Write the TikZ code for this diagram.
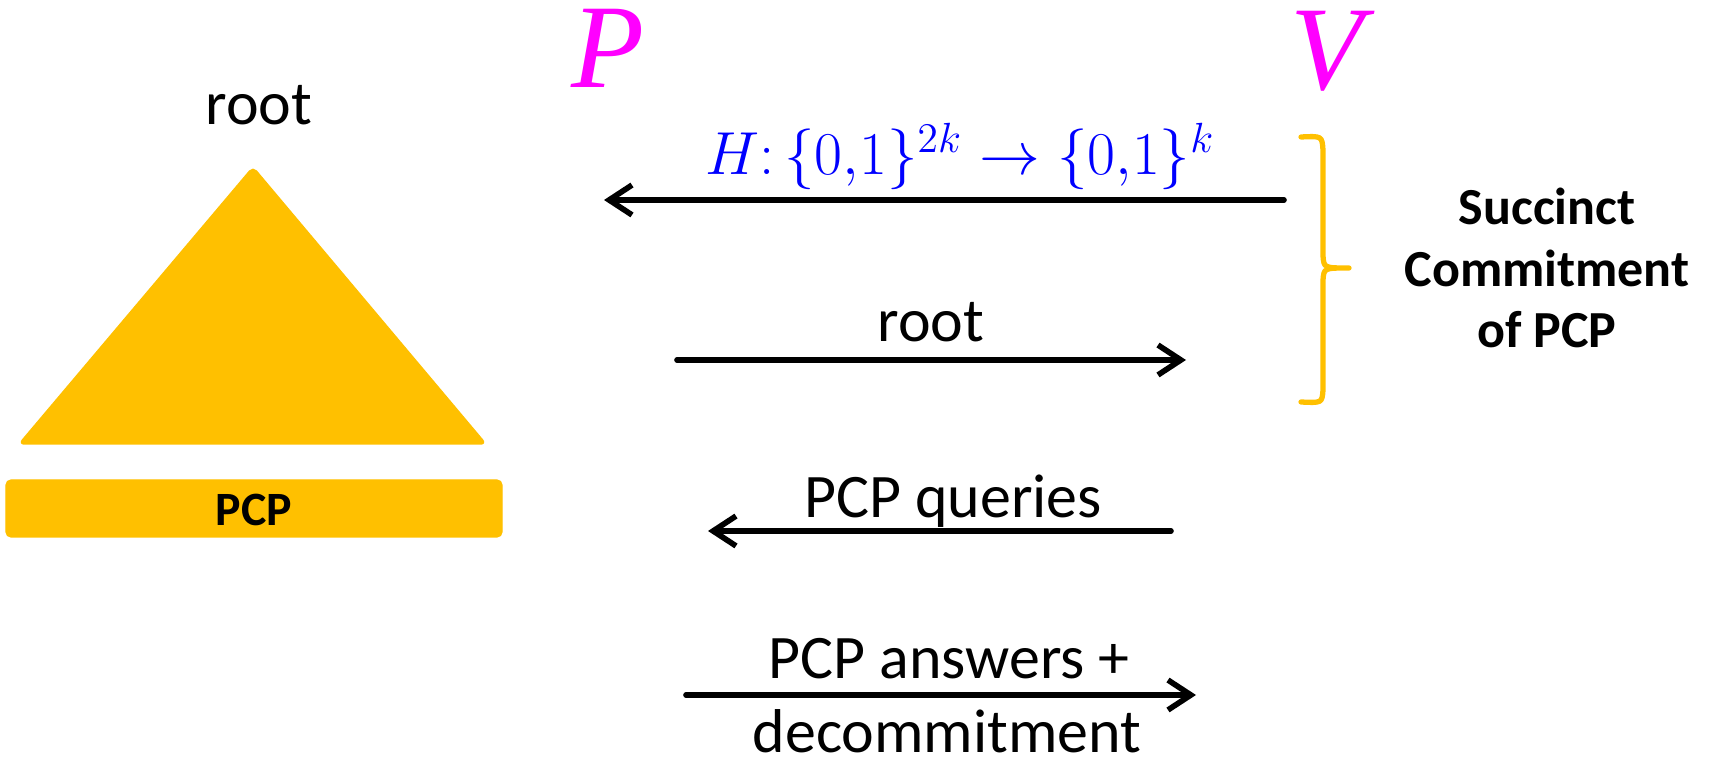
\documentclass[tikz,border=0pt]{standalone}
\usepackage{fontspec}
\setmainfont{Carlito}
\newfontfamily\serifit{Liberation Serif}
\usetikzlibrary{arrows.meta}
\definecolor{gold}{HTML}{FFC000}
\definecolor{magentaP}{HTML}{FF00FF}
\definecolor{blueH}{HTML}{0000FF}
\begin{document}
\begin{tikzpicture}[x=0.01cm,y=-0.01cm,
  lbl/.style={font=\fontsize{17.6}{21.6}\selectfont, inner sep=0pt, anchor=base},
  boldlbl/.style={font=\fontsize{14.8}{17.6}\selectfont\bfseries, inner sep=0pt, align=center},
  party/.style={font=\fontsize{34}{40}\selectfont\serifit\itshape, text=magentaP, inner sep=0pt, anchor=base},
  msg/.style={line width=1.6pt, line cap=round, -{Straight Barb[length=6.5pt,width=8.5pt,line width=1.6pt]}},
  goldfill/.style={fill=gold, draw=gold, line join=round, rounded corners=1.5pt}]
\useasboundingbox (0,0) rectangle (1711,758);

% Merkle tree triangle and PCP bar
\filldraw[goldfill] (253,167) -- (486,444) -- (19,444) -- cycle;
\filldraw[goldfill] (6,480) rectangle (502,537);
\node[lbl] (root) at (259,125) {root};
\node[font=\fontsize{13.6}{16}\selectfont\bfseries, inner sep=0pt, anchor=base] (pcp) at (254,526) {PCP};

% parties
\node[party] (P) at (608,88) {P};
\node[party] (V) at (1327,90) {V};

% messages
\coordinate (a1s) at (1284,200); \coordinate (a1e) at (604,200);
\coordinate (a2s) at (677,360);  \coordinate (a2e) at (1186,360);
\coordinate (a3s) at (1171,531); \coordinate (a3e) at (708,531);
\coordinate (a4s) at (686,695);  \coordinate (a4e) at (1196,695);
\draw[msg] (a1s) -- (a1e);
\draw[msg] (a2s) -- (a2e);
\draw[msg] (a3s) -- (a3e);
\draw[msg] (a4s) -- (a4e);

\node[lbl, text=blueH] (hlab) at (960,175) {$H\colon\{0{,}1\}^{2k}\to\{0{,}1\}^{k}$};
\node[lbl] (rootmsg) at (931,342) {root};
\node[lbl] (queries) at (953,518) {PCP queries};
\node[lbl] (answers) at (949,679) {PCP answers +};
\node[lbl] (decom) at (947,753) {decommitment};

% brace
\draw[gold, line width=1.5pt, line cap=round, line join=round]
  (1301,137) .. controls (1322,136) .. (1323,150) -- (1323,256)
  .. controls (1324,268) .. (1349,268)
  .. controls (1324,268) .. (1323,280) -- (1323,390)
  .. controls (1322,403) .. (1301,402);
\node[boldlbl] (succ) at (1547,268) {Succinct\\Commitment\\of PCP};
\end{tikzpicture}
\end{document}
